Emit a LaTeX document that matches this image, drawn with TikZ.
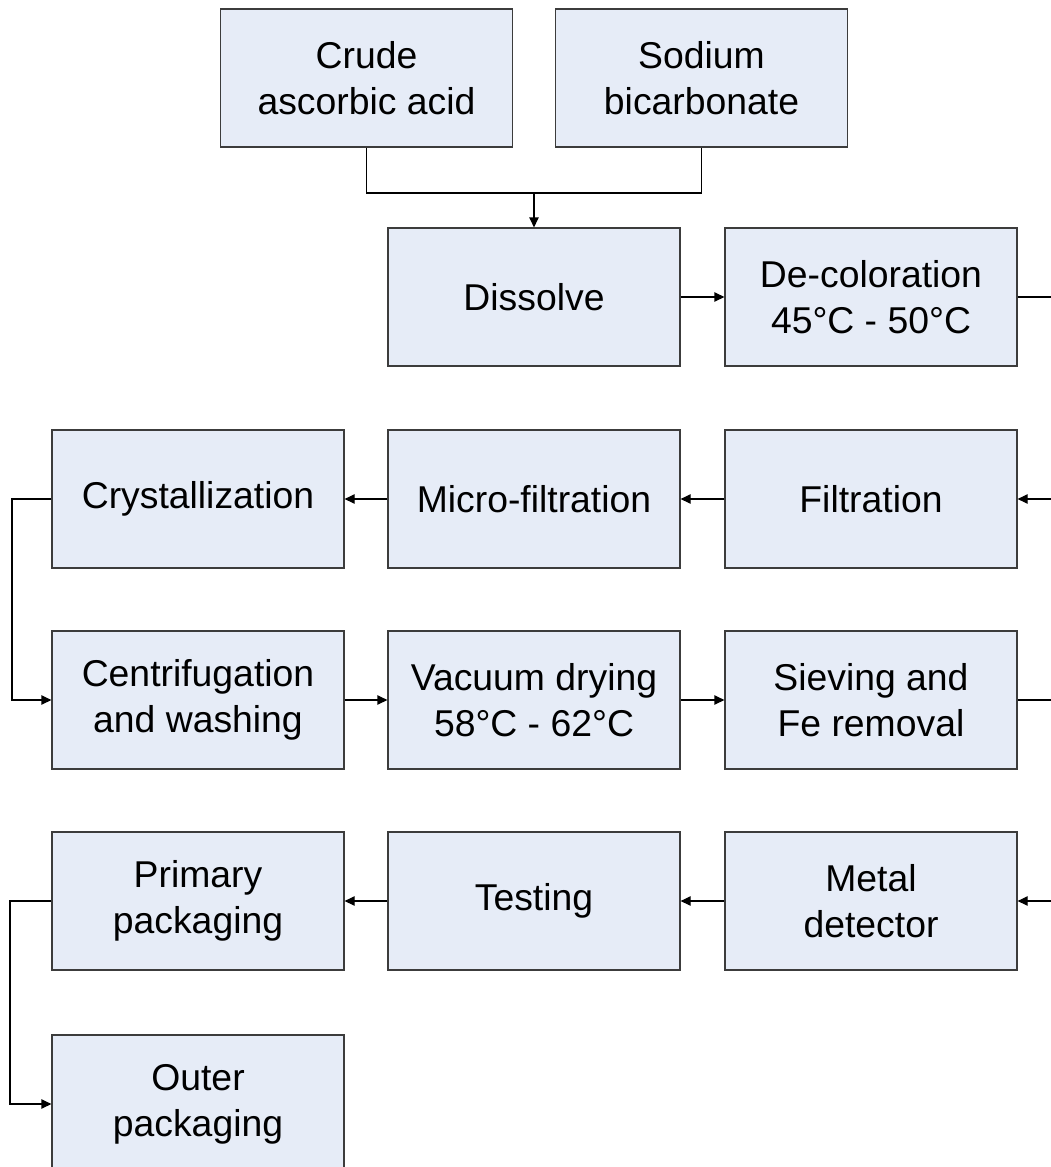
\documentclass[tikz,border=0pt]{standalone}
\usepackage{fontspec}
\setmainfont{Liberation Sans}
\usetikzlibrary{arrows.meta}
\definecolor{boxfill}{RGB}{230,236,247}
\definecolor{boxline}{RGB}{60,60,60}
\tikzset{
  stepbox/.style={draw=boxline, line width=0.9pt, fill=boxfill, minimum width=219pt, minimum height=103.5pt,
    inner sep=0pt, align=center, font=\fontsize{28}{34.5}\selectfont},
  conn/.style={draw=black, line width=0.9pt},
  arr/.style={conn, -{Triangle[length=7.5pt,width=7pt]}}
}
\begin{document}
\begin{tikzpicture}[x=0.75pt,y=-0.75pt]
\useasboundingbox (0,0) rectangle (1050,1167);
\node[stepbox] (crude) at (366.5,78) {Crude\\ascorbic acid};
\node[stepbox] (sodium) at (701.5,78) {Sodium\\bicarbonate};
\node[stepbox] (dissolve) at (534,297) {Dissolve};
\node[stepbox] (decol) at (871,297) {De-coloration\\45°C - 50°C};
\node[stepbox] (cryst) at (198,499) {Crystallization};
\node[stepbox] (micro) at (534,499) {Micro-filtration};
\node[stepbox] (filt) at (871,499) {Filtration};
\node[stepbox] (centr) at (198,700) {Centrifugation\\and washing};
\node[stepbox] (vac) at (534,700) {Vacuum drying\\58°C - 62°C};
\node[stepbox] (siev) at (871,700) {Sieving and\\Fe removal};
\node[stepbox] (prim) at (198,901) {Primary\\packaging};
\node[stepbox] (test) at (534,901) {Testing};
\node[stepbox] (metal) at (871,901) {Metal\\detector};
\node[stepbox] (outer) at (198,1104) {Outer\\packaging};

\coordinate (j) at (534,193);
\coordinate (e1) at (1056,297);
\coordinate (e2) at (1056,499);
\coordinate (e3) at (1056,700);
\coordinate (e4) at (1056,901);
\coordinate (l1) at (12,499);
\coordinate (l2) at (10,901);

\draw[conn] (crude.south) |- (j) -| (sodium.south);
\draw[arr] (j) -- (dissolve.north);
\draw[arr] (dissolve) -- (decol);
\draw[conn] (decol.east) -- (e1);
\draw[arr] (e2) -- (filt.east);
\draw[arr] (filt) -- (micro);
\draw[arr] (micro) -- (cryst);
\draw[arr] (cryst.west) -- (l1) |- (centr.west);
\draw[arr] (centr) -- (vac);
\draw[arr] (vac) -- (siev);
\draw[conn] (siev.east) -- (e3);
\draw[arr] (e4) -- (metal.east);
\draw[arr] (metal) -- (test);
\draw[arr] (test) -- (prim);
\draw[arr] (prim.west) -- (l2) |- (outer.west);
\end{tikzpicture}
\end{document}
